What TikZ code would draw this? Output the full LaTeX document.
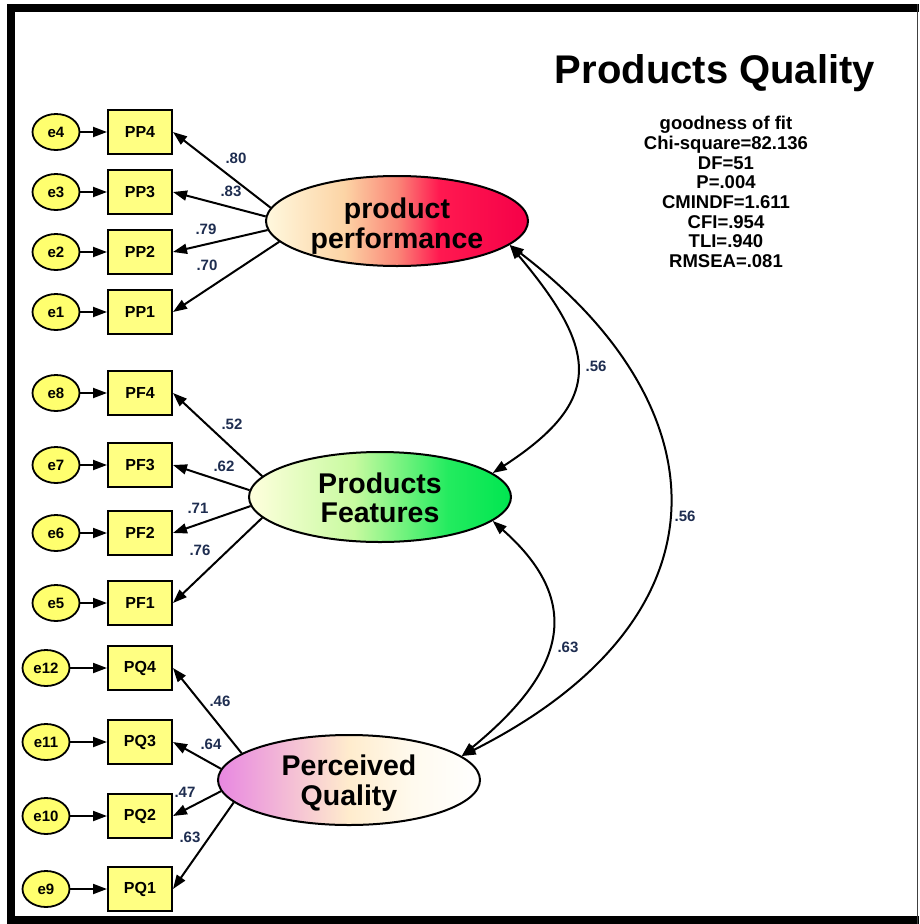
\documentclass[tikz,border=0pt]{standalone}
\usepackage{fontspec}
\setmainfont{Liberation Sans}
\usetikzlibrary{arrows.meta,shapes.geometric}

\definecolor{errfill}{RGB}{255,255,110}
\definecolor{boxfill}{RGB}{255,255,130}
\definecolor{wtcol}{RGB}{30,45,80}
% latent variable gradients
\definecolor{perfA}{RGB}{255,248,222}
\definecolor{perfB}{RGB}{252,212,165}
\definecolor{perfC}{RGB}{250,135,120}
\definecolor{perfD}{RGB}{255,25,80}
\definecolor{perfE}{RGB}{245,0,72}
\definecolor{featA}{RGB}{255,255,222}
\definecolor{featB}{RGB}{200,250,160}
\definecolor{featC}{RGB}{35,235,95}
\definecolor{featD}{RGB}{0,230,80}
\definecolor{qualA}{RGB}{232,135,225}
\definecolor{qualB}{RGB}{245,195,212}
\definecolor{qualC}{RGB}{255,236,205}
\definecolor{qualD}{RGB}{255,250,238}
\definecolor{qualE}{RGB}{255,255,255}

\pgfdeclarehorizontalshading{perfshade}{100bp}{color(0bp)=(perfA); color(25bp)=(perfA); color(40bp)=(perfB); color(50bp)=(perfC); color(58bp)=(perfD); color(75bp)=(perfE); color(100bp)=(perfE)}
\pgfdeclarehorizontalshading{featshade}{100bp}{color(0bp)=(featA); color(25bp)=(featA); color(45bp)=(featB); color(63bp)=(featC); color(75bp)=(featD); color(100bp)=(featD)}
\pgfdeclarehorizontalshading{qualshade}{100bp}{color(0bp)=(qualA); color(25bp)=(qualA); color(40bp)=(qualB); color(50bp)=(qualC); color(62bp)=(qualD); color(75bp)=(qualE); color(100bp)=(qualE)}

% two-line latent label, lowered by #1 while keeping its box size
\newcommand{\latlabel}[3]{\raisebox{-#1}[\height][\depth]{\begin{tabular}{@{}c@{}}#2\\#3\end{tabular}}}

\begin{document}
\begin{tikzpicture}[x=1pt,y=-1pt,
  errnode/.style={ellipse, draw, line width=1.8pt, fill=errfill, minimum width=47pt, minimum height=36pt, inner sep=0pt, font=\bfseries\fontsize{15}{15}\selectfont},
  obsnode/.style={rectangle, draw, line width=2pt, fill=boxfill, minimum width=64pt, minimum height=44pt, inner sep=0pt, font=\bfseries\fontsize{16}{16}\selectfont},
  latnode/.style={ellipse, draw, line width=2pt, minimum width=262pt, minimum height=90pt, inner sep=0pt, align=center, font=\bfseries\fontsize{28.5}{29.5}\selectfont},
  arr/.style={line width=2pt, -{Triangle[length=14pt,width=10pt]}},
  cov/.style={line width=2pt, {Triangle[length=14pt,width=10pt]}-{Triangle[length=14pt,width=10pt]}},
  wt/.style={font=\bfseries\fontsize{15}{15}\selectfont, text=wtcol, inner sep=0pt}
]
\useasboundingbox (0,0) rectangle (919,924);

% frame
\fill[black] (7,4) rectangle (919,12);
\fill[black] (7,4) rectangle (15,924);
\fill[black] (7,916) rectangle (919,924);
\draw[line width=1.5pt, black!75] (917.5,4) -- (917.5,924);

% title and fit statistics
\node[anchor=base, font=\bfseries\fontsize{40}{40}\selectfont] (title) at (715,83) {Products Quality};
\node[align=center, font=\bfseries\fontsize{18.5}{19.7}\selectfont, inner sep=0pt] (fit) at (726,192)
  {goodness of fit\\Chi-square=82.136\\DF=51\\P=.004\\CMINDF=1.611\\CFI=.954\\TLI=.940\\RMSEA=.081};

% latent variables
\node[latnode, shading=perfshade] (pp) at (397,221) {\latlabel{6.5pt}{product}{performance}};
\node[latnode, shading=featshade] (pf) at (380,497) {\latlabel{5pt}{Products}{Features}};
\node[latnode, shading=qualshade] (pq) at (349,780) {\latlabel{4.5pt}{Perceived}{Quality}};

% indicators
\foreach \n/\y in {PP4/132, PP3/192, PP2/252, PP1/312, PF4/393, PF3/465, PF2/533, PF1/603, PQ4/668, PQ3/742, PQ2/816, PQ1/889}
  \node[obsnode] (\n) at (140,\y) {\n};

% error terms
\foreach \n/\x/\y/\t in {e4/56/132/PP4, e3/56/192/PP3, e2/56/252/PP2, e1/56/312/PP1,
                         e8/56/393/PF4, e7/56/465/PF3, e6/56/533/PF2, e5/56/603/PF1,
                         e12/46/668/PQ4, e11/46/742/PQ3, e10/46/816/PQ2, e9/46/889/PQ1}
{
  \node[errnode] (\n) at (\x,\y) {\n};
  \draw[arr] (\n) -- (\t.west);
}

% loadings
\draw[arr] (pp.174) -- (PP4.east);
\draw[arr] (pp.178) -- (PP3.east);
\draw[arr] (pp.184) -- (PP2.east);
\draw[arr] (pp.190) -- (PP1.east);
\draw[arr] (pf.170) -- (PF4.east);
\draw[arr] (pf.177) -- (PF3.east);
\draw[arr] (pf.184) -- (PF2.east);
\draw[arr] (pf.190) -- (PF1.east);
\draw[arr] (pq.166) -- (PQ4.east);
\draw[arr] (pq.175) -- (PQ3.east);
\draw[arr] (pq.185) -- (PQ2.east);
\draw[arr] (pq.191) -- (PQ1.east);

\node[wt] (w1) at (236,158) {.80};
\node[wt] (w2) at (231,191) {.83};
\node[wt] (w3) at (206,229) {.79};
\node[wt] (w4) at (207,265) {.70};
\node[wt] (w5) at (232,424) {.52};
\node[wt] (w6) at (224,466) {.62};
\node[wt] (w7) at (198,508) {.71};
\node[wt] (w8) at (200,550) {.76};
\node[wt] (w9) at (220,701) {.46};
\node[wt] (w10) at (211,744) {.64};
\node[wt] (w11) at (185,792) {.47};
\node[wt] (w12) at (190,837) {.63};

% covariances
\draw[cov] (pp.-12) .. controls (598,350) and (605,400) .. (pf.12);
\draw[cov] (pf.-12) .. controls (590,607) and (558,677) .. (pq.12);
\draw[cov] (pp.-12) .. controls (722,407) and (737,617) .. (pq.12);

\node[wt] (c1) at (596,366) {.56};
\node[wt] (c2) at (568,647) {.63};
\node[wt] (c3) at (685,516) {.56};
\end{tikzpicture}
\end{document}
